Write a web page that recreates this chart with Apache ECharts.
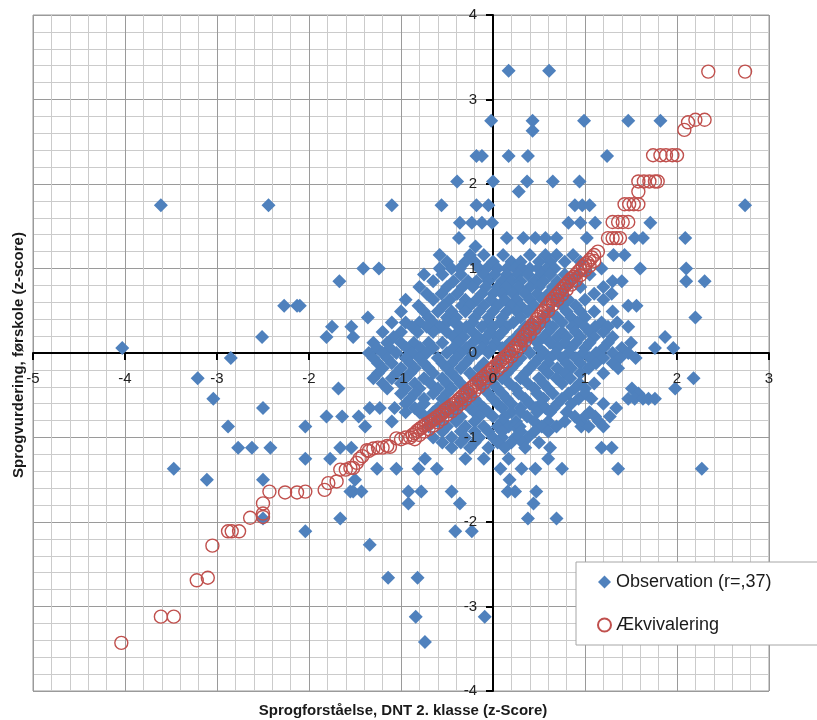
<!DOCTYPE html>
<html>
<head>
<meta charset="utf-8">
<script src="https://cdn.jsdelivr.net/npm/echarts@6/dist/echarts.min.js"></script>
<style>
html,body{margin:0;padding:0;background:#fff;}
#c{width:817px;height:720px;}
</style>
</head>
<body>
<div id="c"></div>
<script>
// ---- data ----
const xTitle = 'Sprogforståelse, DNT 2. klasse (z-Score)';
const yTitle = 'Sprogvurdering, førskole (z-score)';
const obsName = 'Observation (r=,37)';
const eqName = 'Ækvivalering';

// observation y levels and the x positions of diamonds at each level
const obsLevels = [3.34, 2.75, 2.63, 2.33, 2.03, 1.91, 1.75, 1.54, 1.36, 1.26, 1.16, 1.08, 1.0, 0.93, 0.85, 0.78, 0.7, 0.63, 0.56, 0.49, 0.42, 0.36, 0.31, 0.25, 0.19, 0.12, 0.06, 0.0, -0.06, -0.12, -0.18, -0.24, -0.30, -0.36, -0.42, -0.48, -0.54, -0.6, -0.65, -0.7, -0.75, -0.81, -0.87, -0.93, -1.0, -1.06, -1.12, -1.25, -1.37, -1.5, -1.64, -1.78, -1.96, -2.11, -2.27, -2.66, -3.12, -3.42];
const obsXByLevel = [
  [0.17, 0.61],
  [-0.02, 0.43, 0.99, 1.47, 1.82],
  [0.43],
  [-0.18, -0.12, 0.17, 0.38, 1.24],
  [-0.39, 0.0, 0.37, 0.65, 0.94],
  [0.28],
  [-3.61, -2.44, -1.10, -0.56, -0.18, -0.05, 0.89, 0.97, 1.05, 2.74],
  [-0.36, -0.23, -0.12, -0.01, 0.82, 0.95, 1.11, 1.71],
  [-0.37, 0.15, 0.33, 0.46, 0.57, 0.69, 1.02, 1.54, 1.63, 2.09],
  [-0.19],
  [-0.58, -0.25, -0.1, 0.11, 0.40, 0.57, 0.69, 0.87, 1.31, 1.43],
  [-0.5, -0.3, -0.2, 0.0, 0.2, 0.3, 0.5, 0.62, 0.78, 0.95],
  [-1.41, -1.24, -0.58, -0.45, -0.36, -0.15, -0.07, 0.05, 0.15, 0.24, 0.32, 0.40, 0.49, 0.58, 0.67, 1.18, 1.60, 2.1],
  [-0.75, -0.55, -0.35, -0.1, 0.02, 0.15, 0.27, 0.38, 0.52, 0.62, 0.78, 0.92, 1.05],
  [-1.67, -0.65, -0.43, -0.27, -0.18, -0.05, 0.1, 0.2, 0.3, 0.45, 0.55, 0.7, 0.85, 1.30, 1.40, 2.1, 2.3],
  [-0.8, -0.5, -0.33, -0.22, -0.08, 0.05, 0.15, 0.28, 0.4, 0.5, 0.65, 0.8, 0.95, 1.2],
  [-0.72, -0.56, -0.39, -0.12, 0.0, 0.1, 0.22, 0.35, 0.48, 0.6, 0.75, 1.1, 1.29],
  [-0.95, -0.65, -0.47, -0.3, -0.18, -0.02, 0.13, 0.26, 0.4, 0.54, 0.68, 0.82, 1.0, 1.2],
  [-2.27, -2.13, -2.10, -0.81, -0.54, -0.34, -0.25, -0.1, 0.05, 0.2, 0.3, 0.45, 0.75, 0.9, 1.47, 1.56],
  [-1.0, -0.75, -0.6, -0.45, -0.3, -0.15, 0.0, 0.15, 0.26, 0.38, 0.62, 0.8, 0.95, 1.1, 1.3],
  [-1.36, -0.7, -0.5, -0.4, -0.2, -0.05, 0.1, 0.3, 0.55, 0.7, 0.85, 1.0, 2.2],
  [-1.1, -0.95, -0.8, -0.65, -0.5, -0.42, -0.22, -0.05, 0.08, 0.22, 0.42, 0.58, 0.75, 0.92, 1.18, 1.35],
  [-1.75, -1.54, -0.88, -0.72, -0.58, -0.36, -0.29, -0.12, 0.0, 0.15, 0.35, 0.5, 0.65, 0.86, 1.0, 1.11, 1.25, 1.47],
  [-1.2, -1.0, -0.82, -0.65, -0.5, -0.38, -0.22, -0.03, 0.1, 0.3, 0.45, 0.6, 0.75, 0.9, 1.05, 1.2],
  [-2.51, -1.81, -1.52, -1.08, -0.43, -0.32, -0.16, -0.07, 0.05, 0.25, 0.4, 0.55, 0.7, 0.8, 0.95, 1.1, 1.3, 1.87],
  [-1.3, -1.15, -1.0, -0.86, -0.7, -0.55, -0.38, -0.22, -0.1, 0.02, 0.18, 0.32, 0.48, 0.62, 0.78, 0.9, 1.05, 1.25, 1.5],
  [-4.03, -1.26, -1.12, -0.94, -0.79, -0.65, -0.43, -0.29, -0.12, -0.01, 0.1, 0.35, 0.5, 0.7, 0.85, 1.0, 1.2, 1.4, 1.76, 1.96],
  [-1.35, -1.2, -1.05, -0.88, -0.72, -0.5, -0.35, -0.18, -0.05, 0.2, 0.4, 0.56, 0.68, 0.82, 0.98, 1.12, 1.3, 1.47],
  [-2.85, -1.3, -1.15, -0.95, -0.8, -0.6, -0.4, -0.25, 0.1, 0.3, 0.5, 0.62, 0.75, 0.9, 1.05, 1.2, 1.38, 1.55],
  [-1.25, -1.1, -0.9, -0.75, -0.55, -0.45, -0.3, -0.1, 0.05, 0.25, 0.45, 0.6, 0.8, 0.95, 1.12, 1.3],
  [-1.2, -1.0, -0.85, -0.7, -0.5, -0.35, -0.15, 0.2, 0.4, 0.55, 0.7, 0.85, 1.04, 1.36],
  [-1.25, -1.05, -0.9, -0.65, -0.45, -0.25, -0.1, 0.0, 0.15, 0.35, 0.6, 0.78, 0.95, 1.2],
  [-3.21, -1.3, -1.1, -0.95, -0.75, -0.55, -0.4, -0.2, -0.05, 0.1, 0.3, 0.5, 0.69, 0.84, 2.18],
  [-1.2, -1.0, -0.85, -0.68, -0.5, -0.35, -0.15, 0.0, 0.18, 0.38, 0.55, 0.75, 0.94, 1.1],
  [-1.68, -1.15, -0.95, -0.8, -0.6, -0.45, -0.3, -0.1, 0.05, 0.25, 0.45, 0.6, 0.89, 1.0, 1.51, 1.98],
  [-1.0, -0.85, -0.65, -0.5, -0.25, -0.05, 0.1, 0.28, 0.48, 0.65, 0.82, 1.0, 1.58],
  [-3.04, -0.9, -0.75, -0.55, -0.35, -0.2, 0.0, 0.15, 0.35, 0.55, 0.75, 0.93, 1.07, 1.47, 1.54, 1.63, 1.69, 1.76],
  [-0.95, -0.75, -0.5, -0.3, -0.15, 0.05, 0.2, 0.4, 0.52, 0.7, 0.85, 1.2],
  [-2.50, -1.34, -1.23, -1.07, -0.85, -0.6, -0.4, -0.25, -0.1, 0.1, 0.3, 0.46, 0.57, 0.66, 1.34],
  [-0.95, -0.8, -0.65, -0.45, -0.2, -0.05, 0.2, 0.3, 0.48, 0.62, 0.8, 1.05],
  [-1.81, -1.64, -1.46, -0.74, -0.55, -0.35, -0.15, 0.0, 0.13, 0.37, 0.89, 1.0, 1.11, 1.27],
  [-1.1, -0.6, -0.4, -0.2, 0.1, 0.25, 0.45, 0.6, 0.78, 0.95, 1.15],
  [-2.88, -2.04, -1.39, -0.70, -0.5, -0.3, -0.1, 0.05, 0.17, 0.24, 0.29, 0.53, 0.69, 0.96, 1.04, 1.20],
  [-0.55, -0.35, -0.2, -0.05, 0.1, 0.3, 0.45, 0.6],
  [-0.65, -0.45, -0.3, -0.15, 0.0, 0.1, 0.24, 0.38],
  [-0.55, -0.35, -0.2, 0.05, 0.2, 0.32, 0.5],
  [-2.77, -2.62, -2.42, -1.66, -1.54, -0.45, -0.25, -0.05, 0.13, 0.35, 0.62, 1.18, 1.29],
  [-2.04, -1.77, -0.74, -0.3, -0.1, 0.17, 0.60],
  [-3.47, -1.26, -1.05, -0.81, -0.61, 0.08, 0.31, 0.46, 0.75, 1.36, 2.27],
  [-3.11, -2.50, -1.50, 0.18],
  [-1.55, -1.52, -1.43, -0.92, -0.78, -0.45, 0.16, 0.24, 0.47],
  [-0.92, -0.36, 0.44],
  [-2.50, -1.66, 0.38, 0.69],
  [-2.04, -0.41, -0.23],
  [-1.34],
  [-1.14, -0.82],
  [-0.84, -0.09],
  [-0.74]
];

// equating (Ækvivalering) points: tails, upper band row, lower band row, top steps
const eqX = [-4.04, -3.61, -3.47, -3.22, -3.10, -3.05, -2.88, -2.84, -2.76, -2.64, -2.50, -2.50, -2.50, -2.43, -2.26, -2.13, -2.04, -1.83, -1.79, -1.70, -1.66, -1.60, -1.55, -1.52, -1.48, -1.45, -1.42, -1.37, -1.35, -1.30, -1.25, -1.20, -1.15, -1.12, -1.05, -1.00, -0.95, -0.90,
  -0.875, -0.85, -0.825, -0.80, -0.775, -0.75, -0.725, -0.70, -0.675, -0.65, -0.625, -0.60, -0.575, -0.55, -0.525, -0.50, -0.475, -0.45, -0.425, -0.40, -0.375, -0.35, -0.325, -0.30, -0.275, -0.25, -0.225, -0.20, -0.175, -0.15, -0.125, -0.10, -0.075, -0.05, -0.025,
  0.00, 0.025, 0.05, 0.075, 0.10, 0.125, 0.15, 0.175, 0.20, 0.225, 0.25, 0.275, 0.30, 0.325, 0.35, 0.375, 0.40, 0.425, 0.45, 0.475, 0.50, 0.525, 0.55, 0.575, 0.60, 0.625, 0.65, 0.675, 0.70, 0.725, 0.75, 0.775, 0.80, 0.825, 0.85, 0.875, 0.90, 0.925, 0.95, 0.975, 1.00, 1.025, 1.05, 1.075, 1.10,
  -0.85, -0.80, -0.75, -0.70, -0.65, -0.60, -0.55, -0.50, -0.45, -0.40, -0.35, -0.30, -0.25, -0.20, -0.15, -0.10, -0.05, 0.00, 0.05, 0.10, 0.15, 0.20, 0.25, 0.30, 0.35, 0.40, 0.45, 0.50, 0.55, 0.60, 0.65, 0.70, 0.75, 0.80, 0.85, 0.90, 0.95, 1.00, 1.05, 1.10,
  1.14, 1.25, 1.30, 1.34, 1.38, 1.30, 1.36, 1.41, 1.47, 1.43, 1.48, 1.53, 1.58, 1.58, 1.58, 1.64, 1.70, 1.76, 1.79, 1.74, 1.82, 1.88, 1.95, 2.00, 2.08, 2.12, 2.20, 2.30, 2.34, 2.74];
const eqY = [-3.43, -3.12, -3.12, -2.69, -2.66, -2.28, -2.11, -2.11, -2.11, -1.95, -1.94, -1.90, -1.78, -1.64, -1.65, -1.65, -1.64, -1.62, -1.54, -1.52, -1.38, -1.38, -1.36, -1.36, -1.30, -1.25, -1.22, -1.15, -1.16, -1.13, -1.12, -1.12, -1.10, -1.11, -1.01, -1.02, -1.00, -1.00,
  -0.97, -0.95, -0.92, -0.90, -0.88, -0.86, -0.84, -0.83, -0.81, -0.79, -0.77, -0.75, -0.73, -0.71, -0.68, -0.66, -0.64, -0.62, -0.60, -0.58, -0.55, -0.53, -0.50, -0.48, -0.45, -0.43, -0.40, -0.38, -0.35, -0.33, -0.30, -0.28, -0.25, -0.23, -0.20,
  -0.18, -0.15, -0.13, -0.10, -0.08, -0.05, -0.03, 0.00, 0.03, 0.06, 0.09, 0.12, 0.15, 0.19, 0.22, 0.26, 0.29, 0.33, 0.36, 0.40, 0.43, 0.47, 0.50, 0.54, 0.57, 0.61, 0.64, 0.67, 0.70, 0.73, 0.76, 0.79, 0.82, 0.85, 0.88, 0.90, 0.93, 0.96, 0.99, 1.02, 1.05, 1.07, 1.10, 1.13, 1.16,
  -1.02, -0.97, -0.93, -0.90, -0.86, -0.82, -0.78, -0.73, -0.69, -0.65, -0.60, -0.55, -0.50, -0.45, -0.40, -0.35, -0.30, -0.25, -0.20, -0.15, -0.10, -0.04, 0.02, 0.08, 0.15, 0.22, 0.29, 0.36, 0.43, 0.50, 0.57, 0.63, 0.69, 0.75, 0.81, 0.86, 0.92, 0.98, 1.03, 1.09,
  1.20, 1.36, 1.36, 1.36, 1.36, 1.55, 1.55, 1.55, 1.55, 1.76, 1.76, 1.76, 1.76, 1.91, 2.03, 2.03, 2.03, 2.03, 2.03, 2.34, 2.34, 2.34, 2.34, 2.34, 2.64, 2.73, 2.76, 2.76, 3.33, 3.33];

// ---- build series data ----
const obsData = [];
obsLevels.forEach((y, i) => obsXByLevel[i].forEach(x => obsData.push([x, y])));
const eqData = eqX.map((x, i) => [x, eqY[i]]);

const FONT = 'Liberation Sans';
const GRID = {left: 33, top: 15, width: 736, height: 676};
const labelStyle = {fontFamily: FONT, fontSize: 15, color: '#222', showMinLabel: true, showMaxLabel: true};
const lineAxisX = {
  type: 'value', min: -5, max: 3, interval: 1, position: 'bottom', offset: -338, z: 0,
  axisLine: {onZero: false, lineStyle: {color: '#000', width: 2}},
  axisTick: {show: true, length: 7, lineStyle: {color: '#000', width: 2}},
  axisLabel: {show: false},
  splitLine: {show: true, lineStyle: {color: '#9a9a9a', width: 1}},
  minorTick: {show: false, splitNumber: 5},
  minorSplitLine: {show: true, lineStyle: {color: '#cbcbcb', width: 1}}
};
const labelAxisX = {
  type: 'value', min: -5, max: 3, interval: 1, position: 'bottom', offset: -338, z: 10,
  axisLine: {show: false, onZero: false}, axisTick: {show: false}, splitLine: {show: false},
  axisLabel: Object.assign({margin: 18}, labelStyle)
};
const lineAxisY = {
  type: 'value', min: -4, max: 4, interval: 1, position: 'left', offset: -460, z: 0,
  axisLine: {onZero: false, lineStyle: {color: '#000', width: 2}},
  axisTick: {show: true, length: 7, lineStyle: {color: '#000', width: 2}},
  axisLabel: {show: false},
  splitLine: {show: true, lineStyle: {color: '#9a9a9a', width: 1}},
  minorTick: {show: false, splitNumber: 5},
  minorSplitLine: {show: true, lineStyle: {color: '#cbcbcb', width: 1}}
};
const labelAxisY = {
  type: 'value', min: -4, max: 4, interval: 1, position: 'left', offset: -460, z: 10,
  axisLine: {show: false, onZero: false}, axisTick: {show: false}, splitLine: {show: false},
  axisLabel: Object.assign({margin: 16}, labelStyle)
};

const chart = echarts.init(document.getElementById('c'), null, {renderer: 'canvas'});
chart.setOption({
  animation: false,
  backgroundColor: '#ffffff',
  grid: Object.assign({show: true, borderColor: '#9a9a9a', borderWidth: 1, containLabel: false}, GRID),
  xAxis: [lineAxisX, labelAxisX],
  yAxis: [lineAxisY, labelAxisY],
  legend: {
    orient: 'vertical', left: 576, top: 562, z: 20,
    padding: [11, 46, 11, 21], itemGap: 25,
    itemWidth: 13, itemHeight: 13,
    backgroundColor: '#ffffff', borderColor: '#a6a6a6', borderWidth: 1,
    textStyle: {fontFamily: FONT, fontSize: 18, color: '#1a1a1a'},
    data: [obsName, eqName]
  },
  graphic: [
    {type: 'text', x: 403, y: 711, style: {text: xTitle, font: 'bold 15px "Liberation Sans"', fill: '#1a1a1a', textAlign: 'center', textVerticalAlign: 'middle'}},
    {type: 'text', x: 19, y: 355, rotation: Math.PI / 2, style: {text: yTitle, font: 'bold 15px "Liberation Sans"', fill: '#1a1a1a', textAlign: 'center', textVerticalAlign: 'middle'}}
  ],
  series: [
    {name: obsName, type: 'scatter', xAxisIndex: 0, yAxisIndex: 0, symbol: 'diamond', symbolSize: 14, data: obsData,
     itemStyle: {color: '#4F81BD', opacity: 1}},
    {name: eqName, type: 'scatter', xAxisIndex: 0, yAxisIndex: 0, symbol: 'circle', symbolSize: 13, data: eqData,
     itemStyle: {color: 'rgba(255,255,255,0)', borderColor: '#C0504D', borderWidth: 1.4, opacity: 1}}
  ]
});
</script>
</body>
</html>
